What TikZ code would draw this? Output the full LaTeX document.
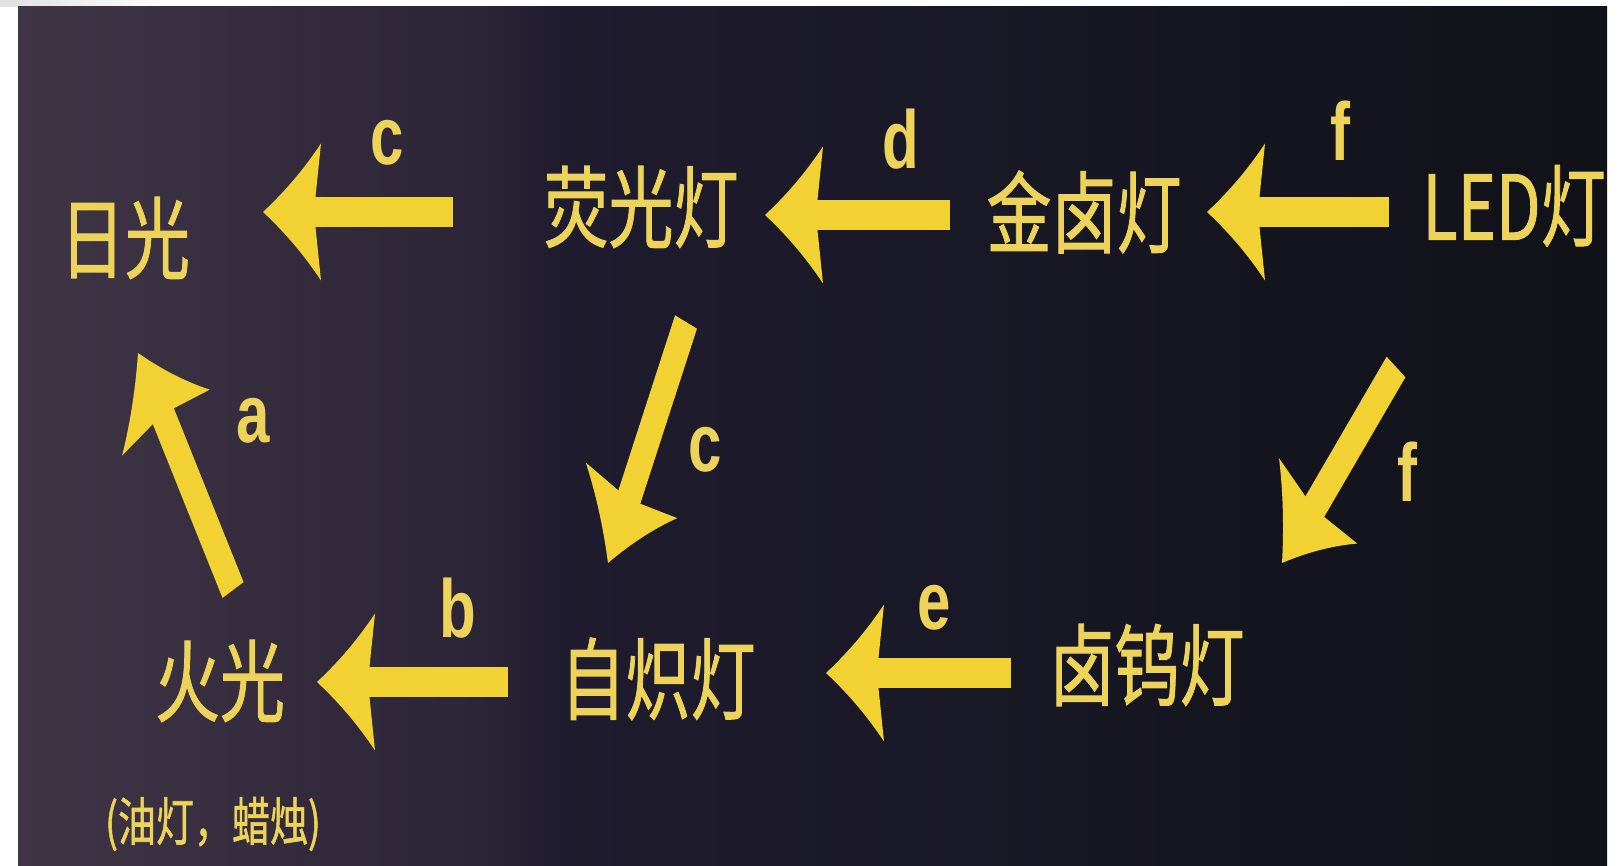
\documentclass[tikz,border=0pt]{standalone}
\usepackage{fontspec}
\newfontfamily\cjk[FakeBold=1.2]{Noto Sans CJK SC}
\newfontfamily\lab{Liberation Sans}
\usetikzlibrary{arrows.meta}
\definecolor{ayel}{HTML}{F2D233}
\definecolor{tyel}{HTML}{EDD35A}
\definecolor{bgA}{HTML}{3F3545}
\definecolor{bgB}{HTML}{2C2537}
\definecolor{bgC}{HTML}{1F1C2F}
\definecolor{bgD}{HTML}{101218}

\pgfdeclarearrow{
  name = Tulip,
  parameters = {\the\pgfarrowlength,\the\pgfarrowwidth},
  setup code = {
    \pgfarrowssettipend{0pt}
    \pgfarrowssetlineend{-0.8\pgfarrowlength}
    \pgfarrowssetbackend{-\pgfarrowlength}
    \pgfarrowssetvisualbackend{-\pgfarrowlength}
    \pgfarrowshullpoint{0pt}{0pt}
    \pgfarrowshullpoint{-\pgfarrowlength}{.5\pgfarrowwidth}
    \pgfarrowshullpoint{-\pgfarrowlength}{-.5\pgfarrowwidth}
    \pgfarrowssavethe\pgfarrowlength
    \pgfarrowssavethe\pgfarrowwidth
  },
  drawing code = {
    \pgfpathmoveto{\pgfpoint{0pt}{0pt}}
    \pgfpathcurveto{\pgfpoint{-0.38\pgfarrowlength}{0.15\pgfarrowwidth}}{\pgfpoint{-0.71\pgfarrowlength}{0.315\pgfarrowwidth}}{\pgfpoint{-\pgfarrowlength}{0.5\pgfarrowwidth}}
    \pgfpathlineto{\pgfpoint{-0.9\pgfarrowlength}{0.09\pgfarrowwidth}}
    \pgfpathlineto{\pgfpoint{-0.9\pgfarrowlength}{-0.09\pgfarrowwidth}}
    \pgfpathlineto{\pgfpoint{-\pgfarrowlength}{-0.5\pgfarrowwidth}}
    \pgfpathcurveto{\pgfpoint{-0.71\pgfarrowlength}{-0.315\pgfarrowwidth}}{\pgfpoint{-0.38\pgfarrowlength}{-0.15\pgfarrowwidth}}{\pgfpoint{0pt}{0pt}}
    \pgfpathclose
    \pgfusepathqfill
  },
  defaults = {length = 58pt, width = 100pt}
}

\tikzset{
  cjkt/.style={text=tyel, font=\cjk\fontsize{65}{65}\selectfont, inner sep=0pt, anchor=center},
  labt/.style={text=tyel, font=\lab\bfseries\fontsize{60}{60}\selectfont, inner sep=0pt, anchor=center},
  subt/.style={text=tyel, font=\cjk\fontsize{38}{38}\selectfont, inner sep=0pt, anchor=center},
  bigarrow/.style={draw=ayel, line width=21.5pt, -{Tulip[length=58pt,width=100pt]}},
  diagarrow/.style={bigarrow, line width=24pt},
}

\begin{document}
\begin{tikzpicture}[x=1pt,y=-1pt]
\useasboundingbox (0,0) rectangle (1621,866);
\fill[white] (0,0) rectangle (1621,866);
\shade[left color=black!12, right color=white] (0,0) rectangle (170,7);
\shade[left color=bgA, right color=bgB] (18,7) rectangle (481,866);
\shade[left color=bgB, right color=bgC] (480,7) rectangle (561,866);
\shade[left color=bgC, right color=bgD] (560,7) rectangle (1607,866);

\begin{scope}[transform canvas={yscale=1.37}, y=-0.729927pt]
  % texts
  \node[cjkt] (ri)  at (125,238) {日光};
  \node[cjkt] (ygd) at (641,207) {荧光灯};
  \node[cjkt] (jld) at (1084,212) {金卤灯};
  \node[cjkt] (led) at (1514,206) {LED灯};
  \node[cjkt] (hg)  at (220,681) {火光};
  \node[cjkt] (bzd) at (658,679) {自炽灯};
  \node[cjkt] (lwd) at (1147,665) {卤钨灯};
  \node[subt] (sub) at (213,824) {(油灯，蜡烛)};
  % labels
  \node[labt] (lc1) at (387,143) {c};
  \node[labt] (ld)  at (901,139) {d};
  \node[labt] (lf1) at (1340,131) {f};
  \node[labt] (la)  at (253,421) {a};
  \node[labt] (lc2) at (705,450) {c};
  \node[labt] (lf2) at (1407,472) {f};
  \node[labt] (lb)  at (458,608) {b};
  \node[labt] (le)  at (934,608) {e};
  % arrow ends
  \coordinate (c1t) at (453,212);  \coordinate (c1h) at (263,212);
  \coordinate (dt)  at (950,215);  \coordinate (dh)  at (765,215);
  \coordinate (f1t) at (1389,212); \coordinate (f1h) at (1207,212);
  \coordinate (bt)  at (508,682);  \coordinate (bh)  at (317,682);
  \coordinate (et)  at (1011,673); \coordinate (eh)  at (826,673);
  \coordinate (at)  at (233,590);  \coordinate (ah)  at (138,353);
  \coordinate (c2t) at (686,322);  \coordinate (c2h) at (608,563);
  \coordinate (f2t) at (1396,367); \coordinate (f2h) at (1282,563);
  % arrows
  \draw[bigarrow] (c1t) -- (c1h);
  \draw[bigarrow] (dt) -- (dh);
  \draw[bigarrow] (f1t) -- (f1h);
  \draw[bigarrow] (bt) -- (bh);
  \draw[bigarrow] (et) -- (eh);
  \draw[diagarrow] (at) -- (ah);
  \draw[diagarrow] (c2t) -- (c2h);
  \draw[diagarrow] (f2t) -- (f2h);
\end{scope}
\end{tikzpicture}
\end{document}
